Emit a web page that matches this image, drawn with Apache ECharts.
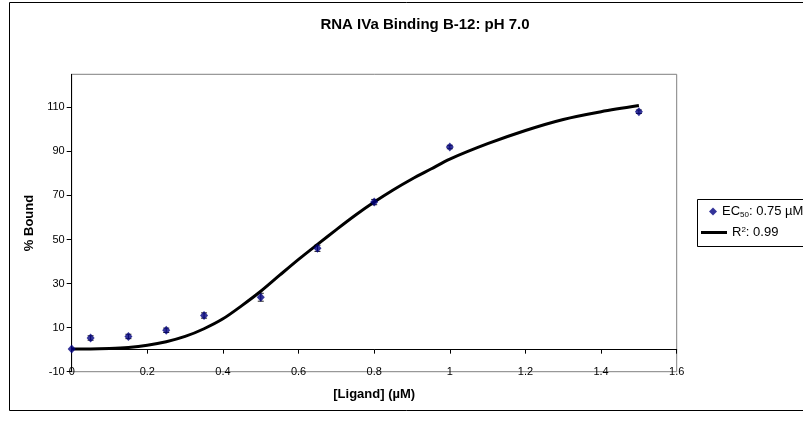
<!DOCTYPE html>
<html><head><meta charset="utf-8">
<script src="https://cdn.jsdelivr.net/npm/echarts@6/dist/echarts.min.js"></script>
<style>html,body{margin:0;padding:0;background:#fff}#c{width:803px;height:423px}</style>
</head><body><div id="c"></div>
<script>
// ---- data ----
const titleText = 'RNA IVa Binding B-12: pH 7.0';
const xName = '[Ligand] (µM)';
const yName = '% Bound';
const ligand   = [0,   0.05, 0.15, 0.25, 0.35, 0.5,  0.65, 0.8, 1.0, 1.5];
const bound    = [0.3, 5.3,  6,    8.8,  15.5, 23.8, 46,   67,  92,  108];
const boundErr = [0,   1,    1,    1,    1.2,  1.8,  1.4,  1.2, 0.8, 0.8];
const fitX = [0, 0.05, 0.1, 0.15, 0.2, 0.25, 0.3, 0.35, 0.4, 0.45, 0.5, 0.55, 0.6, 0.65, 0.7, 0.75, 0.8, 0.85, 0.9, 0.95, 1.0, 1.1, 1.2, 1.3, 1.4, 1.5];
const fitY = [0.3, 0.3, 0.5, 1, 2, 3.6, 6, 9.5, 14, 20, 26.5, 33.8, 41, 47.8, 54.5, 61, 67, 72.5, 77.5, 82, 86.5, 93.5, 99.5, 104.5, 108, 110.8];
const xTicks = [0, 0.2, 0.4, 0.6, 0.8, 1.0, 1.2, 1.4, 1.6];
const yTicks = [-10, 10, 30, 50, 70, 90, 110];
const pointsName = 'EC50: 0.75 µM';
const fitName = 'R2: 0.99';

// ---- chart ----
const chart = echarts.init(document.getElementById('c'), null, {renderer: 'canvas'});
const FONT = 'Liberation Sans, Arial, sans-serif';
const richLegend = {
  sub: {fontSize: 8, fontFamily: FONT, color: '#000', verticalAlign: 'bottom', padding: [6, 0, 0, 0]},
  sup: {fontSize: 8, fontFamily: FONT, color: '#000', verticalAlign: 'top', padding: [0, 0, 5, 0]}
};
chart.setOption({
  animation: false,
  backgroundColor: '#fff',
  textStyle: {fontFamily: FONT, color: '#000'},
  title: {
    text: titleText, left: 425, top: 17, textAlign: 'center', padding: 0,
    textStyle: {fontFamily: FONT, fontSize: 15, fontWeight: 'bold', color: '#000'}
  },
  graphic: [
    {type: 'rect', shape: {x: 9.5, y: 2.5, width: 900, height: 408}, style: {fill: 'none', stroke: '#000', lineWidth: 1}, z: 0, silent: true},
    {type: 'rect', shape: {x: 697.5, y: 199.5, width: 200, height: 47}, style: {fill: '#fff', stroke: '#000', lineWidth: 1}, z: 0, silent: true}
  ],
  grid: {left: 71.7, right: 126.3, top: 74.3, bottom: 51.3, show: true, borderColor: '#808080', borderWidth: 1, containLabel: false, outerBoundsMode: 'none'},
  legend: [
    {
      data: [{name: pointsName, icon: 'diamond'}], left: 709, top: 205, padding: 0,
      itemWidth: 8, itemHeight: 8, selectedMode: false,
      formatter: n => n.replace('EC50', 'EC{sub|50}'),
      textStyle: {fontFamily: FONT, fontSize: 13, color: '#000', rich: richLegend}
    },
    {
      data: [{name: fitName, icon: 'rect'}], left: 701, top: 226, padding: 0,
      itemWidth: 26, itemHeight: 3, selectedMode: false,
      formatter: n => n.replace('R2', 'R{sup|2}'),
      textStyle: {fontFamily: FONT, fontSize: 13, color: '#000', rich: richLegend}
    }
  ],
  xAxis: {
    type: 'value', min: 0, max: 1.6,
    name: xName, nameLocation: 'middle', nameGap: 16,
    nameTextStyle: {fontFamily: FONT, fontSize: 13, fontWeight: 'bold', color: '#000'},
    axisLine: {onZero: true, lineStyle: {color: '#000', width: 1}},
    axisTick: {show: true, length: 4, inside: false, customValues: xTicks, lineStyle: {color: '#000'}},
    axisLabel: {customValues: xTicks, margin: -5, fontFamily: FONT, fontSize: 11, color: '#000', formatter: v => String(v)},
    splitLine: {show: false}
  },
  yAxis: {
    type: 'value', min: -10, max: 125,
    name: yName, nameLocation: 'middle', nameGap: 33,
    nameTextStyle: {fontFamily: FONT, fontSize: 13, fontWeight: 'bold', color: '#000'},
    axisLine: {show: true, onZero: false, lineStyle: {color: '#000', width: 1}},
    axisTick: {show: true, length: 5, customValues: yTicks, lineStyle: {color: '#000'}},
    axisLabel: {customValues: yTicks, margin: 7, fontFamily: FONT, fontSize: 11, color: '#000'},
    splitLine: {show: false}
  },
  series: [
    {
      type: 'custom', name: 'err', z: 2, silent: true,
      renderItem: function (params, api) {
        const x = api.value(0), y = api.value(1), e = api.value(2);
        if (!e) return null;
        const t = api.coord([x, y + e]), b = api.coord([x, y - e]);
        const w = 3, st = {stroke: '#222', lineWidth: 1};
        return {type: 'group', children: [
          {type: 'line', shape: {x1: t[0], y1: t[1], x2: b[0], y2: b[1]}, style: st},
          {type: 'line', shape: {x1: t[0] - w, y1: t[1], x2: t[0] + w, y2: t[1]}, style: st},
          {type: 'line', shape: {x1: b[0] - w, y1: b[1], x2: b[0] + w, y2: b[1]}, style: st}
        ]};
      },
      encode: {x: 0, y: 1},
      data: ligand.map((x, i) => [x, bound[i], boundErr[i]])
    },
    {
      type: 'line', name: fitName, z: 3, smooth: 0.3,
      showSymbol: false, symbol: 'none', color: '#000',
      lineStyle: {color: '#000', width: 3},
      data: fitX.map((x, i) => [x, fitY[i]])
    },
    {
      type: 'scatter', name: pointsName, z: 4, symbol: 'diamond', symbolSize: [8, 9],
      itemStyle: {color: '#000080'},
      data: ligand.map((x, i) => [x, bound[i]])
    }
  ]
});
</script>
</body></html>
